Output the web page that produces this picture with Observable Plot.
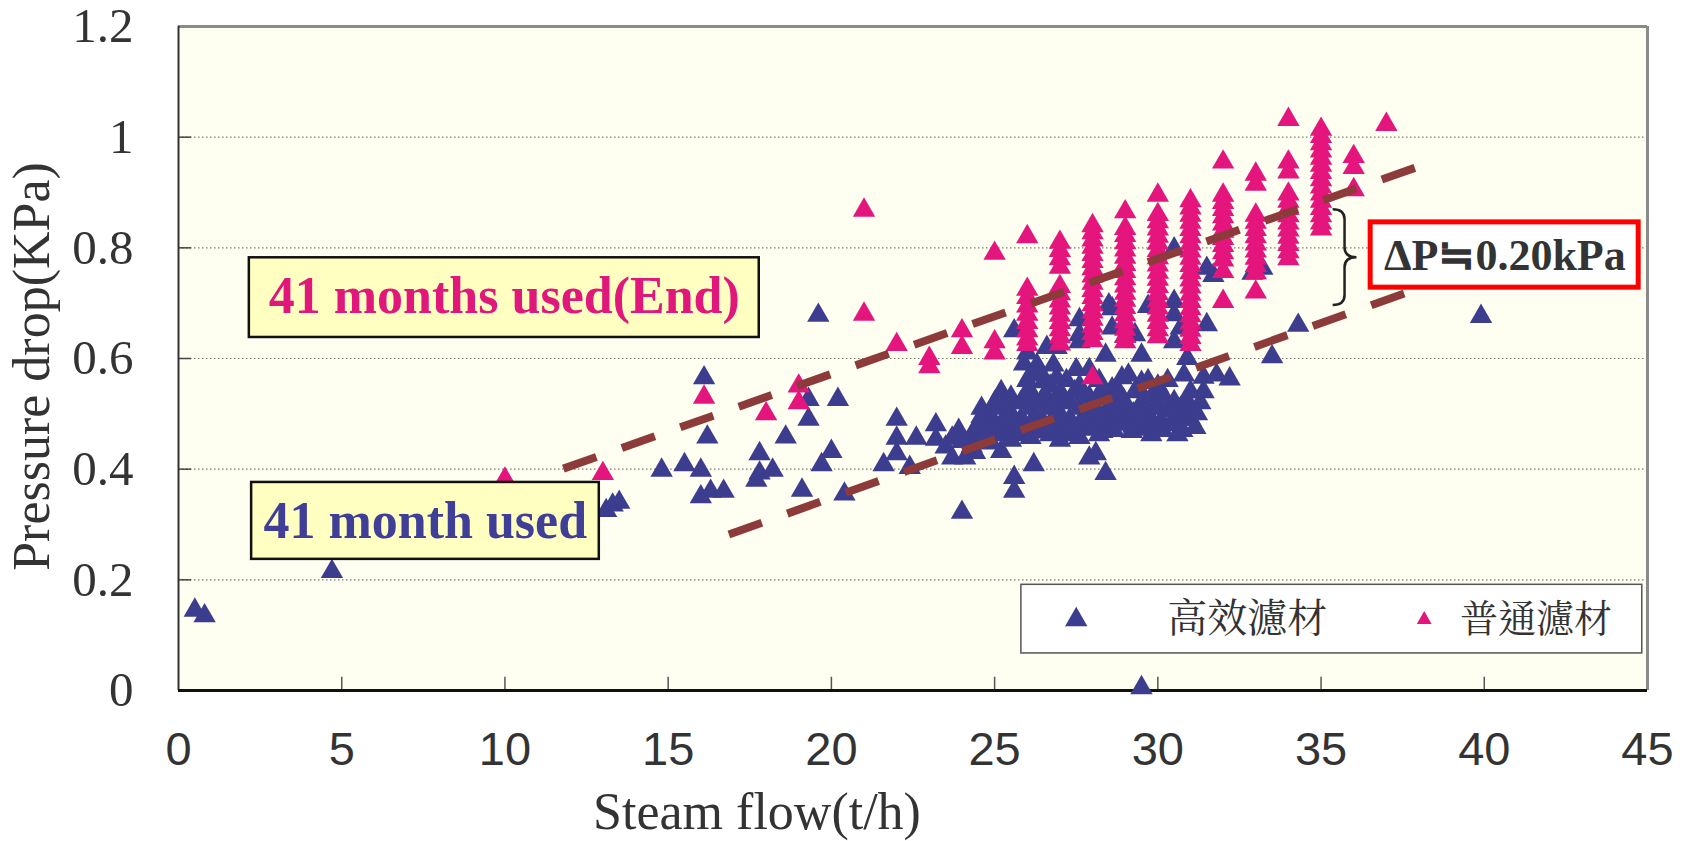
<!DOCTYPE html>
<html><head><meta charset="utf-8">
<script src="https://cdn.jsdelivr.net/npm/d3@7"></script>
<script src="https://cdn.jsdelivr.net/npm/@observablehq/plot@0.6"></script>
<style>html,body{margin:0;padding:0;background:#fff;overflow:hidden}</style>
</head><body><div id="chart"></div>
<script>
// ---------- data ----------
const xTicks = [0, 5, 10, 15, 20, 25, 30, 35, 40, 45];
const yTicks = [0, 0.2, 0.4, 0.6, 0.8, 1, 1.2];
const seriesNames = ["高效濾材", "普通濾材"];
const xTitle = "Steam flow(t/h)";
const yTitle = "Pressure drop(KPa)";
const labelEnd = "41 months used(End)";
const labelUsed = "41 month used";
const labelDelta = "ΔP≒0.20kPa";

// 高效濾材 (high-efficiency filter), [flow, drop]
const highEffPoints = [
  [0.5,0.145],[0.8,0.135],[4.7,0.215],
  [13.1,0.325],[13.3,0.335],[13.5,0.34],
  [14.8,0.398],[15.5,0.408],[16.0,0.398],[16.1,0.565],[16.2,0.458],[16.0,0.35],[16.3,0.36],[16.7,0.36],
  [17.7,0.38],[17.8,0.393],[17.8,0.428],[18.2,0.398],[18.6,0.458],[19.1,0.362],[19.3,0.526],[19.3,0.49],
  [19.6,0.678],[19.7,0.408],[20.0,0.432],[20.2,0.526],[20.4,0.355],
  [21.6,0.408],[22.0,0.49],[22.0,0.456],[22.0,0.428],[22.4,0.403],[22.6,0.456],[23.2,0.48],[23.2,0.454],
  [23.7,0.456],[23.7,0.42],[24.1,0.42],[24.0,0.322],
  [25.2,0.432],[25.6,0.385],[25.6,0.36],[26.2,0.408],[25.6,0.65],[26.3,0.588],[26.8,0.588],[26.5,0.558],
  [27.6,0.67],[27.6,0.63],[27.5,0.58],[27.9,0.58],[27.9,0.42],[28.4,0.392],[28.5,0.697],[28.6,0.545],[28.1,0.428],
  [29.5,0.005],[29.8,0.462],[29.5,0.557],[29.9,0.535],[30.5,0.522],[30.9,0.522],[30.5,0.798],[31.5,0.763],
  [31.7,0.75],[32.9,0.754],[33.2,0.763],
  [30.5,0.703],[30.7,0.655],[30.5,0.63],[31.5,0.661],[30.9,0.6],[31.4,0.566],[31.8,0.57],[32.2,0.563],
  [34.3,0.66],[33.5,0.603],[39.9,0.676],
  [29.0,0.64],[29.7,0.694],[27.6,0.643],
  [28.6,0.69],[28.6,0.655],[28.4,0.606],[29.3,0.643],[29.5,0.606],[30.5,0.679],
  [28.2,0.535],[28.6,0.522],[29.0,0.51],[29.3,0.54],[29.6,0.527],[30.1,0.487],[30.5,0.492],[30.7,0.51],
  [30.9,0.522],[28.3,0.468],[28.8,0.481],[29.2,0.468],
  [24.3,0.462],[24.3,0.442],[24.6,0.482],[24.6,0.452],[24.9,0.492],[24.9,0.472],[24.9,0.447],
  [25.2,0.54],[25.2,0.51],[25.2,0.482],[25.2,0.462],[25.5,0.53],[25.5,0.50],[25.5,0.472],[25.5,0.452],
  [25.8,0.52],[25.8,0.49],[25.8,0.462],[26.1,0.57],[26.1,0.54],[26.1,0.51],[26.1,0.482],[26.1,0.457],
  [26.4,0.52],[26.4,0.49],[26.4,0.467],[26.7,0.55],[26.7,0.51],[26.7,0.482],[26.7,0.462],
  [27.0,0.54],[27.0,0.50],[27.0,0.472],[27.0,0.452],[27.3,0.52],[27.3,0.49],[27.3,0.462],
  [27.6,0.55],[27.6,0.51],[27.6,0.482],[27.6,0.457],[27.9,0.53],[27.9,0.50],[27.9,0.472],
  [28.2,0.56],[28.2,0.49],[28.2,0.462],[28.5,0.51],[28.5,0.482],[28.8,0.54],[28.8,0.50],
  [29.1,0.57],[29.1,0.49],[29.4,0.51],[29.4,0.482],[29.7,0.50],[29.7,0.472],
  [30.0,0.55],[30.0,0.52],[30.0,0.472],[30.3,0.51],[30.6,0.462],[31.0,0.54],[31.0,0.51],[31.0,0.49],
  [24.6,0.51],[25.0,0.52],[26.0,0.61],[26.9,0.62],[25.9,0.59],[26.6,0.62],
  [24.45,0.475],[24.75,0.468],[25.05,0.478],[25.35,0.49],[25.65,0.485],[25.95,0.478],[26.25,0.492],
  [26.55,0.478],[26.85,0.49],[27.15,0.48],[27.45,0.476],[27.75,0.49],[28.05,0.482],[28.35,0.495],
  [28.65,0.47],[28.95,0.488],[29.25,0.478],[29.55,0.49],[29.85,0.482],[30.15,0.47],[30.45,0.48],[30.75,0.49],
  [24.6,0.495],[25.35,0.52],[25.95,0.535],[26.55,0.535],[26.85,0.52],[27.15,0.525],[27.45,0.54],
  [27.75,0.535],[28.05,0.515],[28.35,0.53],[28.65,0.505],[28.95,0.525],[29.25,0.5],[29.55,0.5],
  [29.85,0.51],[30.15,0.535],[30.45,0.505],[30.75,0.47],[31.15,0.475],[31.3,0.52],
  [26.0,0.56],[26.4,0.575],[26.9,0.565],[27.2,0.56],[28.9,0.565],[29.7,0.56],[30.3,0.56],[30.8,0.57],
  [23.5,0.44],[24.0,0.45],[24.4,0.43],[23.9,0.47],[31.2,0.5],[31.4,0.54]
];

// 普通濾材 (ordinary filter): flow of each column and the drops stacked in it
const normalColFlow = [10, 13, 16.1, 18, 19, 21, 22, 23, 24, 25, 26, 27, 28, 29, 30, 31, 32, 33, 34, 35, 36, 37];
const normalColDrops = [
  [0.382],[0.392],[0.53],[0.50],[0.55,0.52],[0.868,0.68],[0.625],[0.60,0.585],[0.65,0.62],[0.79,0.63,0.61],
  [0.82,0.725,0.71,0.695,0.68,0.665,0.65,0.635,0.625],
  [0.81,0.795,0.78,0.765,0.73,0.717,0.704,0.691,0.678,0.665,0.652,0.639,0.626],
  [0.84,0.827,0.814,0.801,0.788,0.775,0.762,0.749,0.736,0.723,0.71,0.697,0.684,0.671,0.658,0.645,0.632,0.565],
  [0.865,0.835,0.822,0.809,0.796,0.783,0.77,0.757,0.744,0.731,0.718,0.705,0.692,0.679,0.666,0.653,0.64,0.63],
  [0.895,0.86,0.847,0.834,0.821,0.808,0.795,0.782,0.769,0.756,0.743,0.73,0.717,0.704,0.691,0.678,0.665,0.652,0.639],
  [0.885,0.872,0.859,0.846,0.833,0.82,0.807,0.794,0.781,0.768,0.755,0.742,0.729,0.716,0.703,0.69,0.677,0.664,0.651,0.638,0.625],
  [0.955,0.895,0.882,0.869,0.856,0.843,0.83,0.817,0.804,0.791,0.778,0.757,0.703],
  [0.933,0.915,0.859,0.846,0.833,0.82,0.807,0.794,0.781,0.768,0.755,0.72],
  [1.032,0.955,0.937,0.897,0.884,0.871,0.858,0.845,0.832,0.819,0.806,0.793,0.78],
  [1.014,1.001,0.988,0.975,0.962,0.949,0.936,0.923,0.91,0.897,0.884,0.871,0.858,0.845,0.834],
  [0.965,0.945,0.905],
  [1.023]
];

// dashed trend lines (end points)
const endTrendFlow = [11.79, 38.04];
const endTrendDrop = [0.401, 0.948];
const usedTrendFlow = [16.86, 37.9];
const usedTrendDrop = [0.282, 0.725];

// ---------- tables built from the arrays ----------
const highData = highEffPoints.map(([x, y]) => ({x, y, s: seriesNames[0]}));
const normalData = normalColFlow.flatMap((x, i) => normalColDrops[i].map(y => ({x, y, s: seriesNames[1]})));
const endTrend = endTrendFlow.map((x, i) => ({x, y: endTrendDrop[i]}));
const usedTrend = usedTrendFlow.map((x, i) => ({x, y: usedTrendDrop[i]}));

// ---------- layout (annotation anchors in data units) ----------
const L = {
  boxEnd: {x1: 2.17, x2: 17.79, y1: 0.782, y2: 0.638, tx: 9.98, ty: 0.712},
  boxUsed: {x1: 2.24, x2: 12.89, y1: 0.376, y2: 0.237, tx: 7.56, ty: 0.306},
  boxDelta: {x1: 36.52, x2: 44.73, y1: 0.846, y2: 0.728, tx: 40.63, ty: 0.785},
  brace: {xl: 35.37, xr: 36.1, yt: 0.869, ym: 0.782, yb: 0.696},
  legend: {x1: 25.82, x2: 44.84, y1: 0.191, y2: 0.067, y: 0.128,
           sym1: 27.5, text1: 30.29, sym2: 38.16, text2: 39.26}
};
const blue = "#3d3d8f", pink = "#e4157d", brown = "#8c3a3a";
const serif = "Liberation Serif, Times New Roman, serif";
const cjk = "Noto Serif CJK TC, Noto Sans CJK TC, sans-serif";
const gridVals = yTicks.filter(v => v > 0 && v < 1.2);
const innerXTicks = xTicks.filter(v => v > 0 && v < 45);
const triR = 8.3;

const chart = Plot.plot({
  width: 1690, height: 841,
  marginLeft: 178, marginRight: 43, marginTop: 26, marginBottom: 151,
  x: {domain: [0, 45]},
  y: {domain: [0, 1.2]},
  style: {background: "#fff", color: "#333", overflow: "visible"},
  marks: [
    Plot.frame({fill: "#fefef1", stroke: null}),
    Plot.ruleY(gridVals, {stroke: "#7a7a7a", strokeWidth: 1.2, strokeDasharray: "1.5,2.5"}),
    Plot.ruleY(gridVals, {x1: 0, x2: 0.4, stroke: "#444", strokeWidth: 1.5}),
    Plot.ruleX(innerXTicks, {y1: 0, y2: 0.024, stroke: "#555", strokeWidth: 1.5}),
    Plot.ruleY([1.2], {stroke: "#8a8a8a", strokeWidth: 3}),
    Plot.ruleX([45], {stroke: "#8a8a8a", strokeWidth: 3}),
    Plot.ruleX([0], {stroke: "#333", strokeWidth: 2}),
    Plot.ruleY([0], {stroke: "#111", strokeWidth: 3}),
    Plot.axisX(xTicks, {tickSize: 0, tickPadding: 41, fontSize: 47, fontFamily: "Liberation Sans, Arial, sans-serif", label: null}),
    Plot.axisY(yTicks, {tickSize: 0, tickPadding: 45, fontSize: 49, fontFamily: serif, label: null,
      tickFormat: d => String(+d.toFixed(1))}),
    Plot.text([xTitle], {frameAnchor: "bottom", textAnchor: "middle", lineAnchor: "middle", dx: -156, dy: 122,
      text: d => d, fontSize: 52, fontFamily: serif}),
    Plot.text([yTitle], {frameAnchor: "left", textAnchor: "middle", lineAnchor: "middle", dx: -146, dy: 8, rotate: -90,
      text: d => d, fontSize: 52, fontFamily: serif}),
    Plot.dot(highData, {x: "x", y: "y", symbol: "triangle", r: triR, fill: blue, stroke: null}),
    Plot.dot(normalData, {x: "x", y: "y", symbol: "triangle", r: triR, fill: pink, stroke: null}),
    Plot.line(endTrend, {x: "x", y: "y", stroke: brown, strokeWidth: 8, strokeDasharray: "35,27", strokeLinecap: "butt"}),
    Plot.line(usedTrend, {x: "x", y: "y", stroke: brown, strokeWidth: 8, strokeDasharray: "35,27", strokeLinecap: "butt"}),
    Plot.rect([L.boxEnd], {x1: "x1", x2: "x2", y1: "y1", y2: "y2", fill: "#ffffc2", stroke: "#111", strokeWidth: 2.5}),
    Plot.text([labelEnd], {x: L.boxEnd.tx, y: L.boxEnd.ty, text: d => d, fontSize: 52, fontWeight: "bold", fontFamily: serif, fill: "#e0187b"}),
    Plot.rect([L.boxUsed], {x1: "x1", x2: "x2", y1: "y1", y2: "y2", fill: "#ffffc2", stroke: "#111", strokeWidth: 2.5}),
    Plot.text([labelUsed], {x: L.boxUsed.tx, y: L.boxUsed.ty, text: d => d, fontSize: 52, fontWeight: "bold", fontFamily: serif, fill: "#3f3f98"}),
    Plot.rect([L.boxDelta], {x1: "x1", x2: "x2", y1: "y1", y2: "y2", fill: "#fff", stroke: "#ff0000", strokeWidth: 5}),
    Plot.text([labelDelta], {x: L.boxDelta.tx, y: L.boxDelta.ty, text: d => d, fontSize: 44, fontWeight: "bold", fontFamily: serif, fill: "#333"}),
    Plot.rect([L.legend], {x1: "x1", x2: "x2", y1: "y1", y2: "y2", fill: "#fff", stroke: "#555", strokeWidth: 1.5}),
    Plot.dot([seriesNames[0]], {x: L.legend.sym1, y: L.legend.y, symbol: "triangle", r: triR, fill: blue}),
    Plot.dot([seriesNames[1]], {x: L.legend.sym2, y: L.legend.y, symbol: "triangle", r: 5.5, fill: pink}),
    Plot.text([seriesNames[0]], {x: L.legend.text1, y: L.legend.y, text: d => d, textAnchor: "start", fontSize: 40, fontFamily: cjk, fill: "#333"}),
    Plot.text([seriesNames[1]], {x: L.legend.text2, y: L.legend.y, text: d => d, textAnchor: "start", fontSize: 38, fontFamily: cjk, fill: "#333"})
  ]
});

// curly brace next to the ΔP box, drawn with the chart's own scales
const sx = chart.scale("x"), sy = chart.scale("y");
const b = L.brace;
const xl = sx.apply(b.xl), xr = sx.apply(b.xr), xm = (xl + xr) / 2;
const yt = sy.apply(b.yt), ym = sy.apply(b.ym), yb = sy.apply(b.yb), r = 10;
const p = d3.path();
p.moveTo(xl, yt); p.quadraticCurveTo(xm, yt, xm, yt + r); p.lineTo(xm, ym - r);
p.quadraticCurveTo(xm, ym, xr, ym); p.quadraticCurveTo(xm, ym, xm, ym + r);
p.lineTo(xm, yb - r); p.quadraticCurveTo(xm, yb, xl, yb);
d3.select(chart).append("path").attr("d", p.toString()).attr("fill", "none")
  .attr("stroke", "#222").attr("stroke-width", 2.5);

document.getElementById("chart").appendChild(chart);
</script>
</body></html>
